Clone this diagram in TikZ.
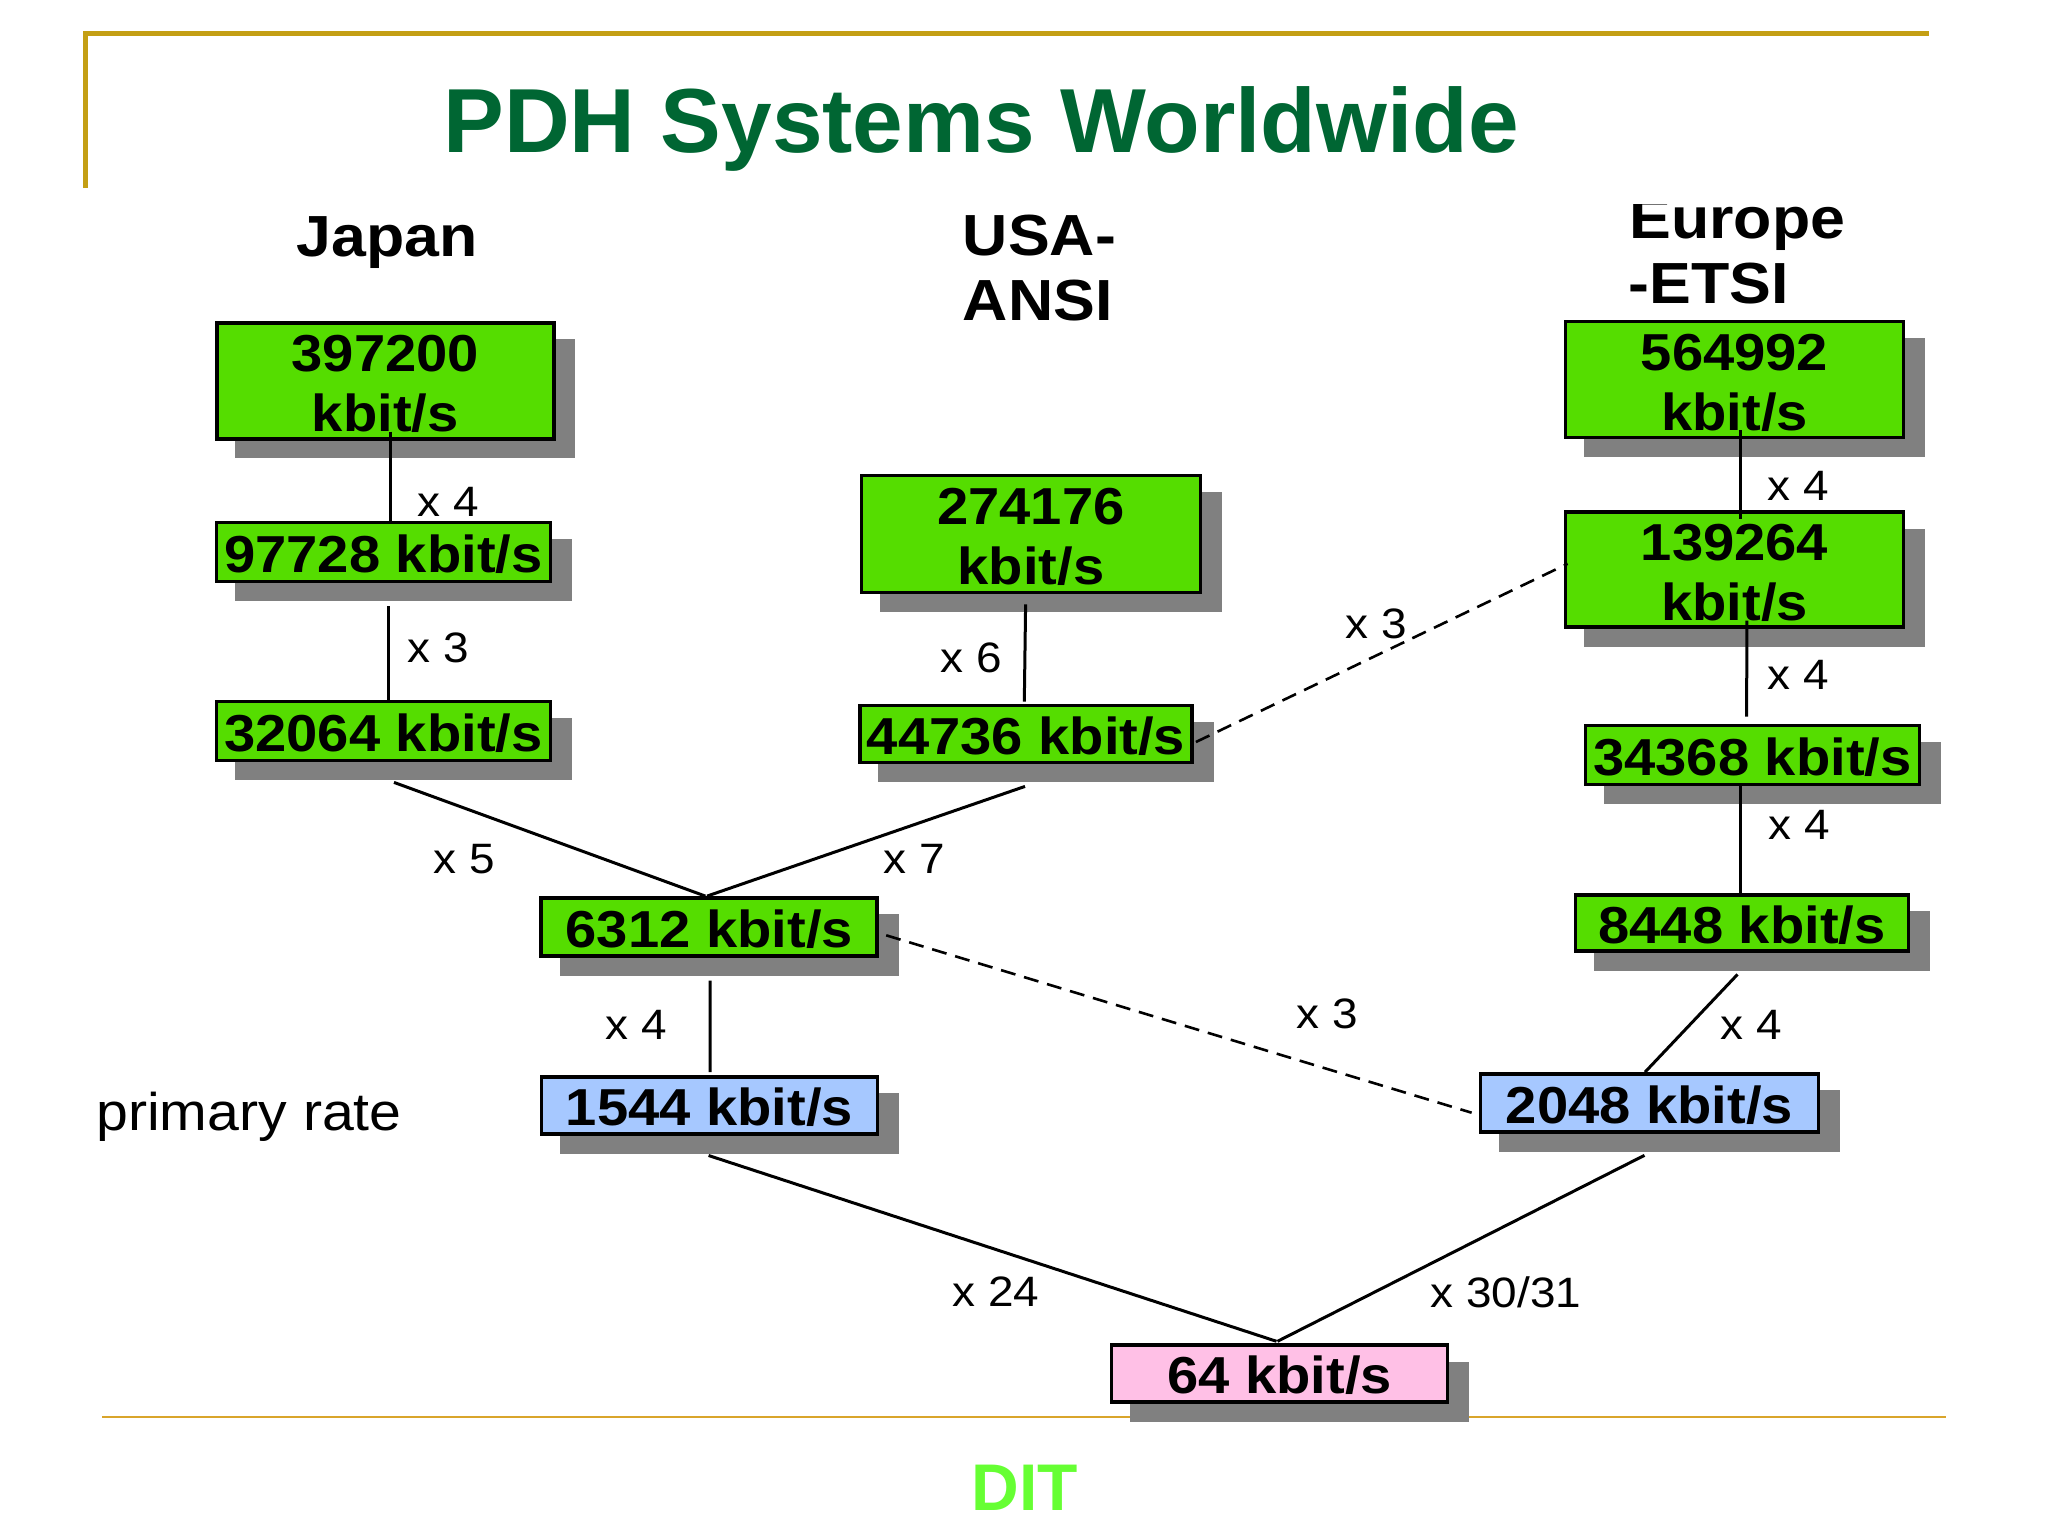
\documentclass[tikz,border=0pt]{standalone}
\usepackage{fontspec}
\setmainfont{Liberation Sans}[FakeStretch=1.08]
\newfontfamily\plainfont{Liberation Sans}
\usetikzlibrary{shadows}
\definecolor{titlegreen}{HTML}{006633}
\definecolor{framegold}{HTML}{C49F14}
\definecolor{rulegold}{HTML}{D9A52B}
\definecolor{ditgreen}{HTML}{66FF33}
\definecolor{boxgreen}{HTML}{55DD00}
\definecolor{boxblue}{HTML}{A6C8FF}
\definecolor{boxpink}{HTML}{FFC0E6}
\definecolor{shadowgray}{HTML}{808080}
\tikzset{
	ratestyle/.style={rectangle,draw=black,line width=1.9pt,inner sep=0pt,align=center,
		font=\fontsize{26}{30}\selectfont\bfseries,
		drop shadow={shadow xshift=10pt,shadow yshift=-9pt,fill=shadowgray,draw=shadowgray,line width=1.6pt,opacity=1}},
	flatstyle/.style={text height=20.2pt,text depth=0pt},
	tallstyle/.style={text height=50.6pt,text depth=0pt},
	greenstyle/.style={ratestyle,fill=boxgreen},
	bluestyle/.style={ratestyle,fill=boxblue},
	pinkstyle/.style={ratestyle,fill=boxpink},
	factorstyle/.style={inner sep=0pt,font=\fontsize{21.25}{24}\selectfont},
	headstyle/.style={inner sep=0pt,anchor=base west,font=\fontsize{29}{32}\selectfont\bfseries},
	linkstyle/.style={draw=black,line width=1.5pt},
	dashstyle/.style={draw=black,line width=1.3pt,dash pattern=on 7.5pt off 4.5pt}
}
\begin{document}
\begin{tikzpicture}[x=0.5pt,y=-0.5pt]
	\useasboundingbox (0,0) rectangle (2048,1536);
	% frame and rule
	\draw[framegold,line width=2.5pt] (85,188)--(85,34)--(1929,34);
	\draw[rulegold,line width=1pt] (102,1417)--(1946,1417);
	% titles
	\node[inner sep=0pt,anchor=base west,text=titlegreen,font=\plainfont\fontsize{45.5}{50}\selectfont\bfseries] (title) at (443,152) {PDH Systems Worldwide};
	\node[inner sep=0pt,anchor=base,text=ditgreen,font=\plainfont\fontsize{33}{36}\selectfont\bfseries] (dit) at (1025,1510) {DIT};
	\node[headstyle] (japan) at (296,256) {Japan};
	\node[headstyle] (usa) at (962.5,255.5) {USA-};
	\node[headstyle] (ansi) at (962.5,320) {ANSI};
	\begin{scope}
		\clip (1600,204) rectangle (1900,260);
		\node[headstyle] (europe) at (1629,238.5) {Europe};
	\end{scope}
	\node[headstyle] (etsi) at (1628,303) {-ETSI};
	\node[inner sep=0pt,anchor=base west,font=\fontsize{26.5}{30}\selectfont] (primary) at (96,1130) {primary rate};
	% rate boxes
	\node[greenstyle,tallstyle,minimum width=168.5pt,minimum height=58pt] (j1) at (385.25,380.7) {397200\\kbit/s};
	\node[greenstyle,flatstyle,minimum width=167pt,minimum height=29.5pt] (j2) at (383.5,552) {97728 kbit/s};
	\node[greenstyle,flatstyle,minimum width=167pt,minimum height=29.5pt] (j3) at (383.5,731) {32064 kbit/s};
	\node[greenstyle,tallstyle,minimum width=169.5pt,minimum height=58.5pt] (u1) at (1031,534) {274176\\kbit/s};
	\node[greenstyle,flatstyle,minimum width=166pt,minimum height=28.5pt] (u2) at (1026,734) {44736 kbit/s};
	\node[greenstyle,tallstyle,minimum width=169pt,minimum height=58pt] (e1) at (1734.5,379.5) {564992\\kbit/s};
	\node[greenstyle,tallstyle,minimum width=169pt,minimum height=57.5pt] (e2) at (1734.5,569.75) {139264\\kbit/s};
	\node[greenstyle,flatstyle,minimum width=167pt,minimum height=29.5pt] (e3) at (1752.5,755) {34368 kbit/s};
	\node[greenstyle,flatstyle,minimum width=166.5pt,minimum height=28pt] (e4) at (1742,923) {8448 kbit/s};
	\node[greenstyle,flatstyle,minimum width=168pt,minimum height=29pt] (m1) at (709.3,927) {6312 kbit/s};
	\node[bluestyle,flatstyle,minimum width=168pt,minimum height=28.5pt] (p1) at (709.5,1105.5) {1544 kbit/s};
	\node[bluestyle,flatstyle,minimum width=169pt,minimum height=29pt] (p2) at (1649.5,1103) {2048 kbit/s};
	\node[pinkstyle,flatstyle,minimum width=168pt,minimum height=28.5pt] (r) at (1279.5,1373.7) {64 kbit/s};
	% connectors
	\draw[linkstyle] ([shift={(4.75,-9)}]j1.south)--([shift={(6.5,0)}]j2.north);
	\draw[linkstyle] ([shift={(4.5,23)}]j2.south)--([shift={(4.5,0)}]j3.north);
	\draw[linkstyle] ([shift={(10.5,20)}]j3.south)--([shift={(-3.9,0)}]m1.north);
	\draw[linkstyle] ([shift={(-5.4,10)}]u1.south)--([shift={(-1.7,-2)}]u2.north);
	\draw[linkstyle] ([shift={(-1,22)}]u2.south)--([shift={(-2.3,0)}]m1.north);
	\draw[dashstyle] ([shift={(2,8)}]u2.east)--([shift={(4,-6)}]e2.west);
	\draw[linkstyle] ([shift={(6,-9)}]e1.south)--([shift={(6,9)}]e2.north);
	\draw[linkstyle] ([shift={(12.25,-8.5)}]e2.south)--([shift={(-5.8,-7)}]e3.north);
	\draw[linkstyle] ([shift={(-12,0)}]e3.south)--([shift={(-1.5,0)}]e4.north);
	\draw[linkstyle] ([shift={(-4.5,21.5)}]e4.south)--([shift={(-4.5,0)}]p2.north);
	\draw[dashstyle] ([shift={(7,8.3)}]m1.east)--([shift={(-7,9.7)}]p2.west);
	\draw[linkstyle] ([shift={(.7,22.6)}]m1.south)--([shift={(.5,-3)}]p1.north);
	\draw[linkstyle] ([shift={(-.9,19.6)}]p1.south)--([shift={(-3,-2)}]r.north);
	\draw[linkstyle] ([shift={(-5,21.4)}]p2.south)--([shift={(-2,-2)}]r.north);
	% factors
	\node[factorstyle] (fj1) at (448.5,502) {x 4};
	\node[factorstyle] (fj2) at (438.5,648) {x 3};
	\node[factorstyle] (fu1) at (971,658) {x 6};
	\node[factorstyle] (fj3) at (464,859) {x 5};
	\node[factorstyle] (fu2) at (914.5,859) {x 7};
	\node[factorstyle] (fm1) at (636,1025) {x 4};
	\node[factorstyle] (fp1) at (996,1292) {x 24};
	\node[factorstyle] (fp2) at (1506,1292) {x 30/31};
	\node[factorstyle] (fm2) at (1327,1014) {x 3};
	\node[factorstyle] (fe4) at (1751,1025) {x 4};
	\node[factorstyle] (fe3) at (1799,825) {x 4};
	\node[factorstyle] (fe1) at (1798,486) {x 4};
	\node[factorstyle] (fe2) at (1798,675) {x 4};
	\node[factorstyle] (fu3) at (1376,624) {x 3};
\end{tikzpicture}
\end{document}
